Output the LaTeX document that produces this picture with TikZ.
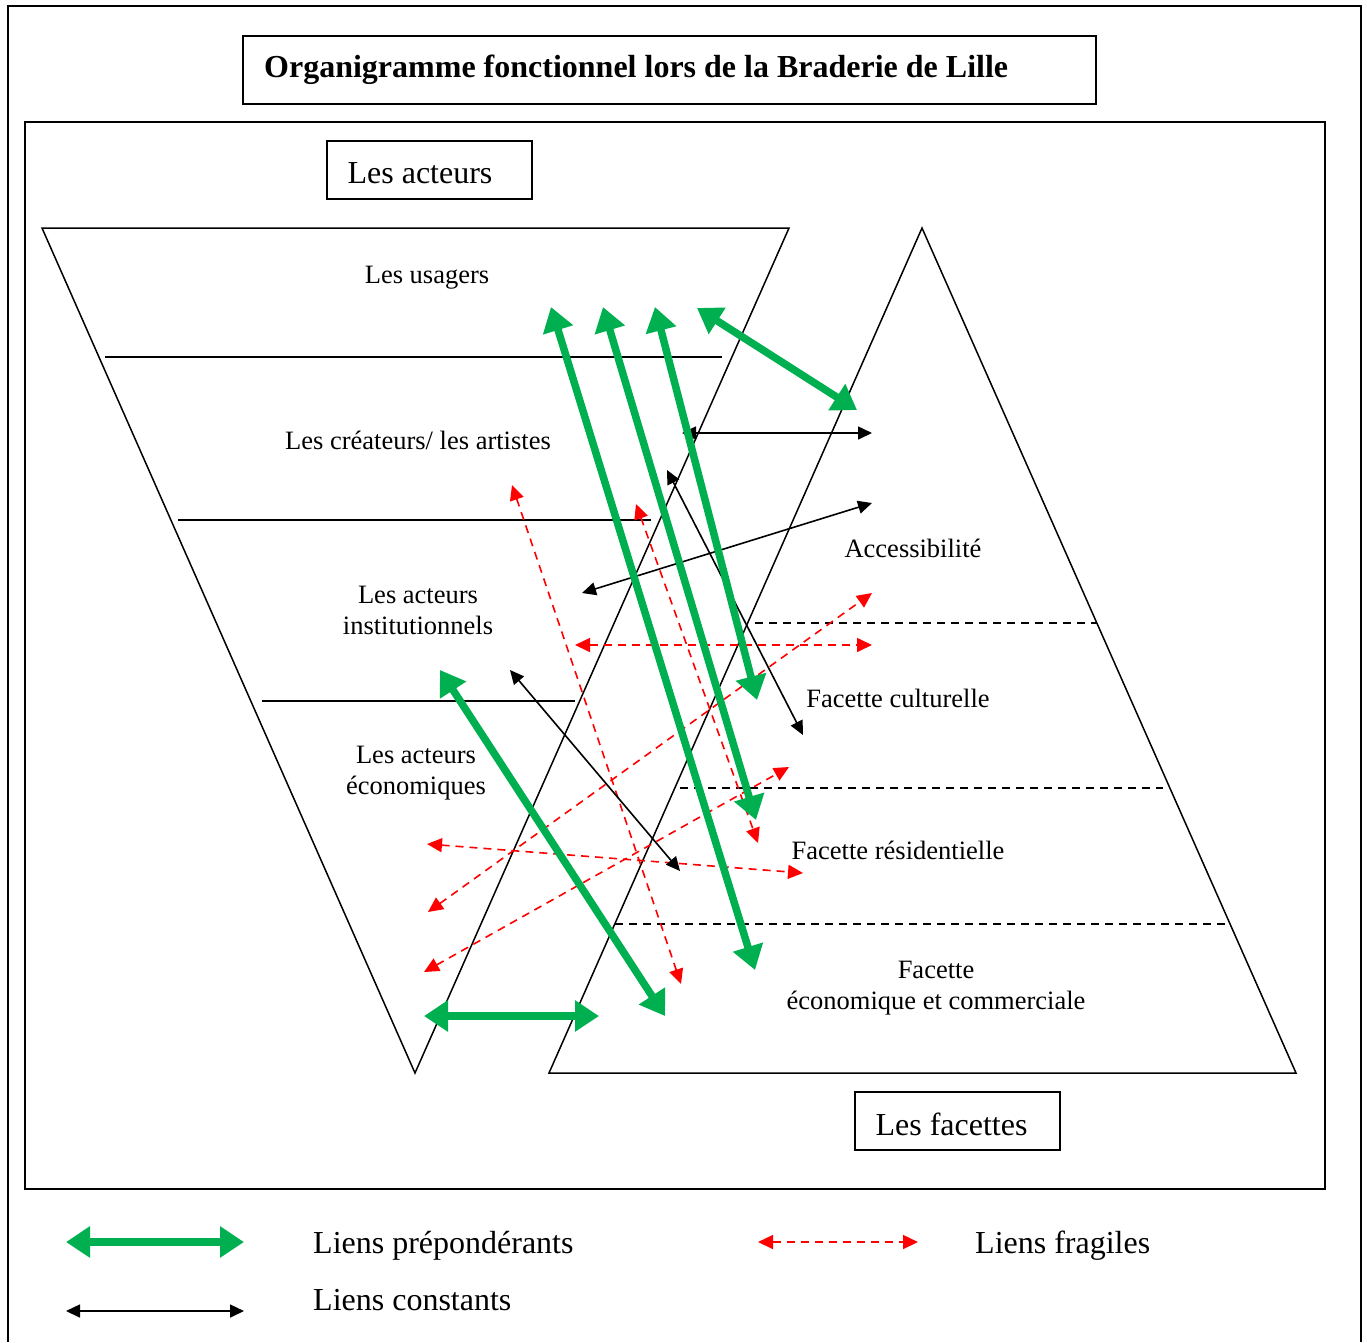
\documentclass[tikz,border=0pt]{standalone}
\usepackage{fontspec}
\setmainfont{Liberation Serif}
\usetikzlibrary{arrows.meta}
\definecolor{lgreen}{RGB}{0,176,80}
\tikzset{
  strong/.style={draw=lgreen, line width=7.5pt, {Triangle[length=24pt,width=30pt]}-{Triangle[length=24pt,width=30pt]}},
  constant/.style={draw=black, line width=1.6pt, {Triangle[length=14pt,width=13pt]}-{Triangle[length=14pt,width=13pt]}},
  fragile/.style={draw=red, line width=1.6pt, dash pattern=on 8pt off 6pt, {Triangle[length=15pt,width=14pt]}-{Triangle[length=15pt,width=14pt]}},
  frameline/.style={line width=1.5pt},
  sepline/.style={line width=1.5pt, dash pattern=on 8pt off 6pt},
  lbl/.style={font=\fontsize{26.5}{31}\selectfont, align=center, inner sep=0pt},
  biglbl/.style={font=\fontsize{32}{38}\selectfont, inner sep=0pt},
  boxframe/.style={draw, line width=1.5pt, minimum width=205pt, minimum height=58pt, inner sep=0pt}
}
\begin{document}
\begin{tikzpicture}[x=1pt,y=-1pt]
\useasboundingbox (0,0) rectangle (1367,1342);
% outer frame
\draw[frameline] (8,1342) -- (8,6) -- (1361,6) -- (1361,1342);
% title
\node[draw, line width=1.8pt, minimum width=853pt, minimum height=68pt, inner sep=0pt] (titlebox) at (669.5,70) {};
\node[anchor=west, inner sep=0pt, font=\fontsize{32}{38}\selectfont\bfseries] (title) at (264,70) {Organigramme fonctionnel lors de la Braderie de Lille};
% inner frame
\draw[frameline] (25,122) rectangle (1325,1189);
% boxes
\node[boxframe] (acteurs) at (429.5,170) {};
\node[biglbl] (acteurstxt) at (420,173) {Les acteurs};
\node[boxframe] (facettes) at (957.5,1121) {};
\node[biglbl] (facettestxt) at (951.5,1124) {Les facettes};
% inverted trapezoid
\draw[frameline] (42,228) -- (789,228) -- (415,1073) -- cycle;
\draw[frameline] (105,357) -- (722,357);
\draw[frameline] (178,520) -- (651,520);
\draw[frameline] (262,701) -- (575,701);
% triangle
\draw[frameline] (922,228) -- (1296,1073) -- (549,1073) -- cycle;
\draw[sepline] (755,623) -- (1097,623);
\draw[sepline] (680,788) -- (1163,788);
\draw[sepline] (615,924) -- (1228,924);
% labels
\node[lbl] (usagers) at (427,278) {Les usagers};
\node[lbl] (createurs) at (418,440) {Les créateurs/ les artistes};
\node[lbl] (instit) at (418,610) {Les acteurs\\institutionnels};
\node[lbl] (eco) at (416,773) {Les acteurs\\économiques};
\node[lbl] (access) at (913,548) {Accessibilité};
\node[lbl] (cult) at (898,698) {Facette culturelle};
\node[lbl] (resid) at (898,850) {Facette résidentielle};
\node[lbl] (comm) at (936,988) {Facette\\économique et commerciale};
% arrow end coordinates
\coordinate (g1a) at (551,307); \coordinate (g1b) at (755,970);
\coordinate (g2a) at (603,307); \coordinate (g2b) at (756,820);
\coordinate (g3a) at (655,307); \coordinate (g3b) at (757,700);
\coordinate (g4a) at (697,308); \coordinate (g4b) at (857,410);
\coordinate (g5a) at (440,670); \coordinate (g5b) at (665,1016);
\coordinate (g6a) at (424,1016); \coordinate (g6b) at (599,1016);
\coordinate (b1a) at (682,433); \coordinate (b1b) at (872,433);
\coordinate (b2a) at (582,593); \coordinate (b2b) at (872,503);
\coordinate (b3a) at (667,470); \coordinate (b3b) at (803,735);
\coordinate (b4a) at (510,670); \coordinate (b4b) at (680,871);
\coordinate (r1a) at (512,485); \coordinate (r1b) at (681,984);
\coordinate (r2a) at (636,504); \coordinate (r2b) at (758,843);
\coordinate (r3a) at (575,645); \coordinate (r3b) at (872,645);
\coordinate (r4a) at (428,912); \coordinate (r4b) at (872,593);
\coordinate (r5a) at (424,972); \coordinate (r5b) at (789,767);
\coordinate (r6a) at (427,844); \coordinate (r6b) at (803,873);
% red fragile links
\draw[fragile] (r1a) -- (r1b);
\draw[fragile] (r2a) -- (r2b);
\draw[fragile] (r3a) -- (r3b);
\draw[fragile] (r4a) -- (r4b);
\draw[fragile] (r5a) -- (r5b);
\draw[fragile] (r6a) -- (r6b);
% black constant links
\draw[constant] (b1a) -- (b1b);
\draw[constant] (b2a) -- (b2b);
\draw[constant] (b3a) -- (b3b);
\draw[constant] (b4a) -- (b4b);
% green strong links
\draw[strong] (g1a) -- (g1b);
\draw[strong] (g2a) -- (g2b);
\draw[strong] (g3a) -- (g3b);
\draw[strong] (g4a) -- (g4b);
\draw[strong] (g5a) -- (g5b);
\draw[strong] (g6a) -- (g6b);
% legend
\coordinate (lga) at (66,1242); \coordinate (lgb) at (244,1242);
\coordinate (lra) at (758,1242); \coordinate (lrb) at (918,1242);
\coordinate (lba) at (66,1311); \coordinate (lbb) at (244,1311);
\draw[strong] (lga) -- (lgb);
\draw[fragile] (lra) -- (lrb);
\draw[constant] (lba) -- (lbb);
\node[biglbl, anchor=west] (lgtxt) at (313,1246) {Liens prépondérants};
\node[biglbl, anchor=west] (lrtxt) at (975,1246) {Liens fragiles};
\node[biglbl, anchor=west] (lbtxt) at (313,1300) {Liens constants};
\end{tikzpicture}
\end{document}
